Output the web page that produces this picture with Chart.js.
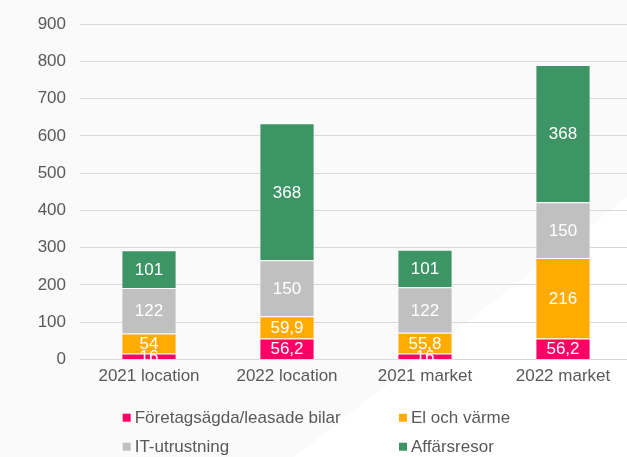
<!DOCTYPE html>
<html>
<head>
<meta charset="utf-8">
<script src="https://cdn.jsdelivr.net/npm/chart.js@4"></script>
<style>
  html, body { margin: 0; padding: 0; overflow: hidden; background: #ffffff; }
  #wrap { width: 627px; height: 457px; overflow: hidden; position: relative; }
  canvas { display: block; }
</style>
</head>
<body>
<div id="wrap"><canvas id="c" width="632" height="457"></canvas></div>
<script>
const categories = ["2021 location", "2022 location", "2021 market", "2022 market"];
const seriesNames = ["Företagsägda/leasade bilar", "El och värme", "IT-utrustning", "Affärsresor"];
const bilar = [16, 56.2, 16, 56.2];
const elVarme = [54, 59.9, 55.8, 216];
const itUtrustning = [122, 150, 122, 150];
const affarsresor = [101, 368, 101, 368];
const yTicks = [0, 100, 200, 300, 400, 500, 600, 700, 800, 900];

const colors = ["#ff0066", "#ffab00", "#c0c0c0", "#3d9464"];
const FONT = "'Liberation Sans', Arial, Helvetica, sans-serif";
const TEXT = "#595959";
const FS = 17;

const bgPlugin = {
  id: "bg",
  beforeDraw(chart) {
    const ctx = chart.ctx;
    ctx.save();
    ctx.fillStyle = "#fafafa";
    ctx.fillRect(0, 0, chart.width, chart.height);
    ctx.fillStyle = "#ffffff";
    ctx.beginPath();
    ctx.moveTo(294, 457);
    ctx.lineTo(627, 197);
    ctx.lineTo(chart.width, 193);
    ctx.lineTo(chart.width, chart.height);
    ctx.closePath();
    ctx.fill();
    ctx.restore();
  }
};

const labelPlugin = {
  id: "segLabels",
  afterDatasetsDraw(chart) {
    const ctx = chart.ctx;
    const area = chart.chartArea;
    ctx.save();
    ctx.beginPath();
    ctx.rect(area.left, area.top, area.right - area.left, area.bottom - area.top);
    ctx.clip();
    ctx.font = FS + "px " + FONT;
    ctx.fillStyle = "#ffffff";
    ctx.textAlign = "center";
    ctx.textBaseline = "middle";
    chart.data.datasets.forEach((ds, di) => {
      const meta = chart.getDatasetMeta(di);
      meta.data.forEach((bar, i) => {
        const v = ds.data[i];
        const txt = String(v).replace(".", ",");
        const yc = (bar.y + bar.base) / 2;
        ctx.fillText(txt, bar.x, yc + 1);
      });
    });
    ctx.restore();
  }
};

const legendPlugin = {
  id: "customLegend",
  afterDraw(chart) {
    const ctx = chart.ctx;
    const cols = [122.7, 399];
    const rows = [417.7, 446.7];
    ctx.save();
    ctx.font = FS + "px " + FONT;
    ctx.textBaseline = "middle";
    ctx.textAlign = "left";
    seriesNames.forEach((name, i) => {
      const x = cols[i % 2];
      const y = rows[Math.floor(i / 2)];
      ctx.fillStyle = colors[i];
      ctx.fillRect(x, y - 4, 8, 8);
      ctx.fillStyle = TEXT;
      ctx.fillText(name, x + 12, y + 1);
    });
    ctx.restore();
  }
};

const seriesData = [bilar, elVarme, itUtrustning, affarsresor];

new Chart(document.getElementById("c"), {
  type: "bar",
  data: {
    labels: categories,
    datasets: seriesNames.map((n, i) => ({
      label: n,
      data: seriesData[i],
      backgroundColor: colors[i],
      borderColor: "rgba(255,255,255,0.35)",
      borderWidth: 1,
      barPercentage: 0.40,
      categoryPercentage: 1.0
    }))
  },
  options: {
    responsive: false,
    animation: false,
    layout: { padding: { top: 23, left: 0, right: 0, bottom: 67.5 } },
    plugins: {
      legend: { display: false },
      tooltip: { enabled: false }
    },
    scales: {
      x: {
        stacked: true,
        grid: { display: false, drawTicks: false },
        border: { display: true, color: "#d9d9d9", width: 1 },
        ticks: { color: TEXT, font: { family: FONT, size: FS }, padding: 7, maxRotation: 0 },
        afterFit(scale) { scale.height = 30; }
      },
      y: {
        stacked: true,
        min: 0,
        max: 900,
        afterBuildTicks(scale) { scale.ticks = yTicks.map(v => ({ value: v })); },
        grid: { color: "#d9d9d9", lineWidth: 1, drawTicks: false },
        border: { display: false },
        ticks: { color: TEXT, font: { family: FONT, size: FS }, padding: 14 },
        afterFit(scale) { scale.width = 80; }
      }
    }
  },
  plugins: [bgPlugin, labelPlugin, legendPlugin]
});
</script>
</body>
</html>
